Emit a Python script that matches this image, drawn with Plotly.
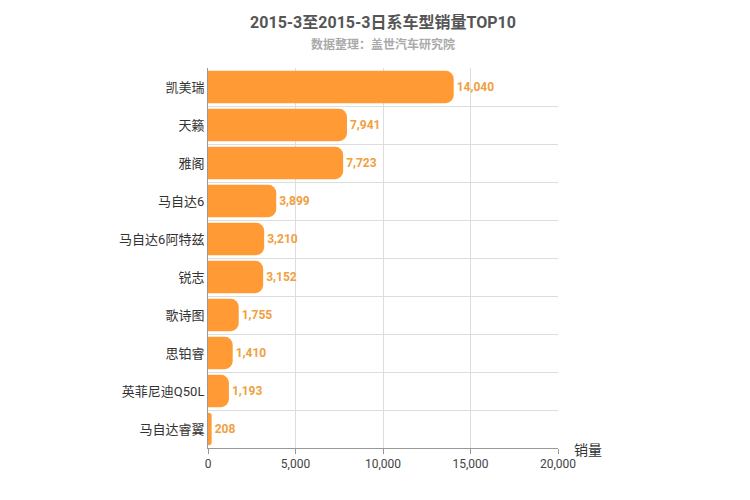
import plotly.graph_objects as go

models = ["凯美瑞", "天籁", "雅阁", "马自达6", "马自达6阿特兹", "锐志", "歌诗图", "思铂睿", "英菲尼迪Q50L", "马自达睿翼"]
sales = [14040, 7941, 7723, 3899, 3210, 3152, 1755, 1410, 1193, 208]
xticks = [0, 5000, 10000, 15000, 20000]

fig = go.Figure(go.Bar(
    y=models, x=sales, orientation="h",
    marker=dict(color="#FF9A35", line=dict(width=0)),
    text=[f"<b>{v:,}</b>" for v in sales], textposition="outside",
    textfont=dict(color="#F0A040", size=12, family="Roboto"),
    cliponaxis=False, width=0.85,
))
fig.update_layout(
    width=750, height=500, paper_bgcolor="white", plot_bgcolor="white",
    margin=dict(l=200, r=200, t=60, b=60, autoexpand=False),
    barcornerradius=8, showlegend=False,
    font=dict(family="Roboto, Noto Sans CJK SC", color="#333"),
    title=dict(text="<b>2015-3至2015-3日系车型销量TOP10</b><br><span style='font-size:12px;color:#AAAAAA'><b>数据整理：盖世汽车研究院</b></span>",
               x=0.5, xanchor="center", y=0.96, yanchor="top",
               font=dict(size=16, color="#555")),
    xaxis=dict(range=[0, 20000], tickvals=xticks, tickformat=",", showgrid=True, automargin=False,
               gridcolor="#DDDDDD", showline=True, linecolor="#999", ticks="outside",
               tickcolor="#999", zeroline=False, tickfont=dict(size=12, color="#444")),
    yaxis=dict(autorange="reversed", tickson="boundaries", showgrid=True, gridcolor="#DDDDDD",
               automargin=False, showline=True, linecolor="#999",
               tickfont=dict(size=13, color="#333"), ticks=""),
    annotations=[dict(text="销量", x=1.04, y=-0.005, xref="paper", yref="paper", xanchor="left",
                      yanchor="middle", showarrow=False, font=dict(size=14, color="#333"))],
)
fig.write_html("out.html")
